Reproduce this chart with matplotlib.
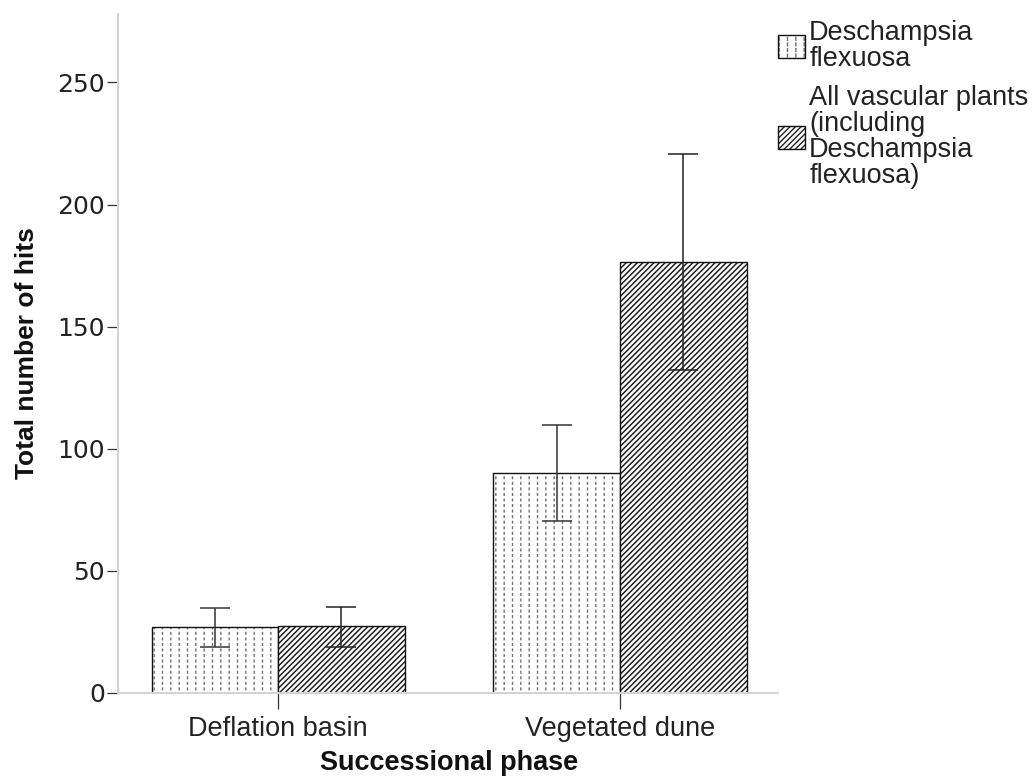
import numpy as np
import matplotlib.pyplot as plt

plt.rcParams['font.family'] = ['Liberation Sans', 'DejaVu Sans']

# data (means and error-bar ends)
phases = ['Deflation basin', 'Vegetated dune']
series = ['Deschampsia\nflexuosa',
          'All vascular plants\n(including\nDeschampsia\nflexuosa)']
desch_mean = [27.2, 90.2]
desch_lo = [19.0, 70.5]
desch_hi = [34.7, 109.8]
vasc_mean = [27.4, 176.4]
vasc_lo = [18.7, 132.4]
vasc_hi = [35.4, 220.5]
yticks = [0, 50, 100, 150, 200, 250]

W, H = 1036, 782
fig = plt.figure(figsize=(W / 100, H / 100), dpi=100)
ax = fig.add_axes([118 / W, 1 - 693 / H, 660 / W, 679 / H])

x = np.arange(len(phases))
w = 0.37

# dotted bars: grey vertical lines cut into dashes by a white horizontal hatch
with plt.rc_context({'hatch.linewidth': 1.0}):
    b1 = ax.bar(x - w / 2, desch_mean, w, color='white', edgecolor='#707070', lw=0, hatch='||')
with plt.rc_context({'hatch.linewidth': 1.8}):
    b1w = ax.bar(x - w / 2, desch_mean, w, color='none', edgecolor='white', lw=0, hatch='---')
b1o = ax.bar(x - w / 2, desch_mean, w, color='none', edgecolor='#111111', lw=1.0)

# striped bars
with plt.rc_context({'hatch.linewidth': 1.1}):
    b2 = ax.bar(x + w / 2, vasc_mean, w, color='white', edgecolor='#222222', lw=0, hatch='//////')
b2o = ax.bar(x + w / 2, vasc_mean, w, color='none', edgecolor='#111111', lw=1.0)

# error bars
d_err = [np.array(desch_mean) - np.array(desch_lo), np.array(desch_hi) - np.array(desch_mean)]
v_err = [np.array(vasc_mean) - np.array(vasc_lo), np.array(vasc_hi) - np.array(vasc_mean)]
ax.errorbar(x - w / 2, desch_mean, yerr=d_err, fmt='none', ecolor='#333333',
            elinewidth=1.1, capsize=11, capthick=1.1)
ax.errorbar(x + w / 2, vasc_mean, yerr=v_err, fmt='none', ecolor='#222222',
            elinewidth=1.1, capsize=11, capthick=1.1)

ax.set_xlim(-0.468, 1.462)
ax.set_ylim(0, 278)
ax.set_xticks(x)
ax.set_xticklabels(phases, fontsize=19.5, color='#222222')
ax.set_yticks(yticks)
ax.set_yticklabels([str(t) for t in yticks], fontsize=18, color='#222222', family='DejaVu Sans')
ax.tick_params(axis='x', length=11.5, width=0.9, color='#333333', pad=5)
ax.tick_params(axis='y', length=8, width=0.9, color='#333333', pad=1.5)

for s in ['top', 'right']:
    ax.spines[s].set_visible(False)
for s in ['left', 'bottom']:
    ax.spines[s].set_color('#d4d4d4')
    ax.spines[s].set_linewidth(1.5)

fig.text(449.5 / W, 1 - 763 / H, 'Successional phase', ha='center', va='center',
         fontsize=19.5, fontweight='bold', color='#111111')
fig.text(27 / W, 1 - 353.5 / H, 'Total number of hits', ha='center', va='center',
         rotation=90, fontsize=19, fontweight='bold', color='#111111')

leg = fig.legend([(b1[0], b1w[0], b1o[0]), (b2[0], b2o[0])], series,
                 loc='upper left', bbox_to_anchor=(778 / W, 1 - 20 / H),
                 frameon=False, borderpad=0, borderaxespad=0, fontsize=19.5,
                 handlelength=1.0, handleheight=0.96, handletextpad=0.15,
                 labelspacing=0.48)
for t in leg.get_texts():
    t.set_linespacing(1.0)
    t.set_color('#222222')

fig.savefig('out.png', dpi=100)
